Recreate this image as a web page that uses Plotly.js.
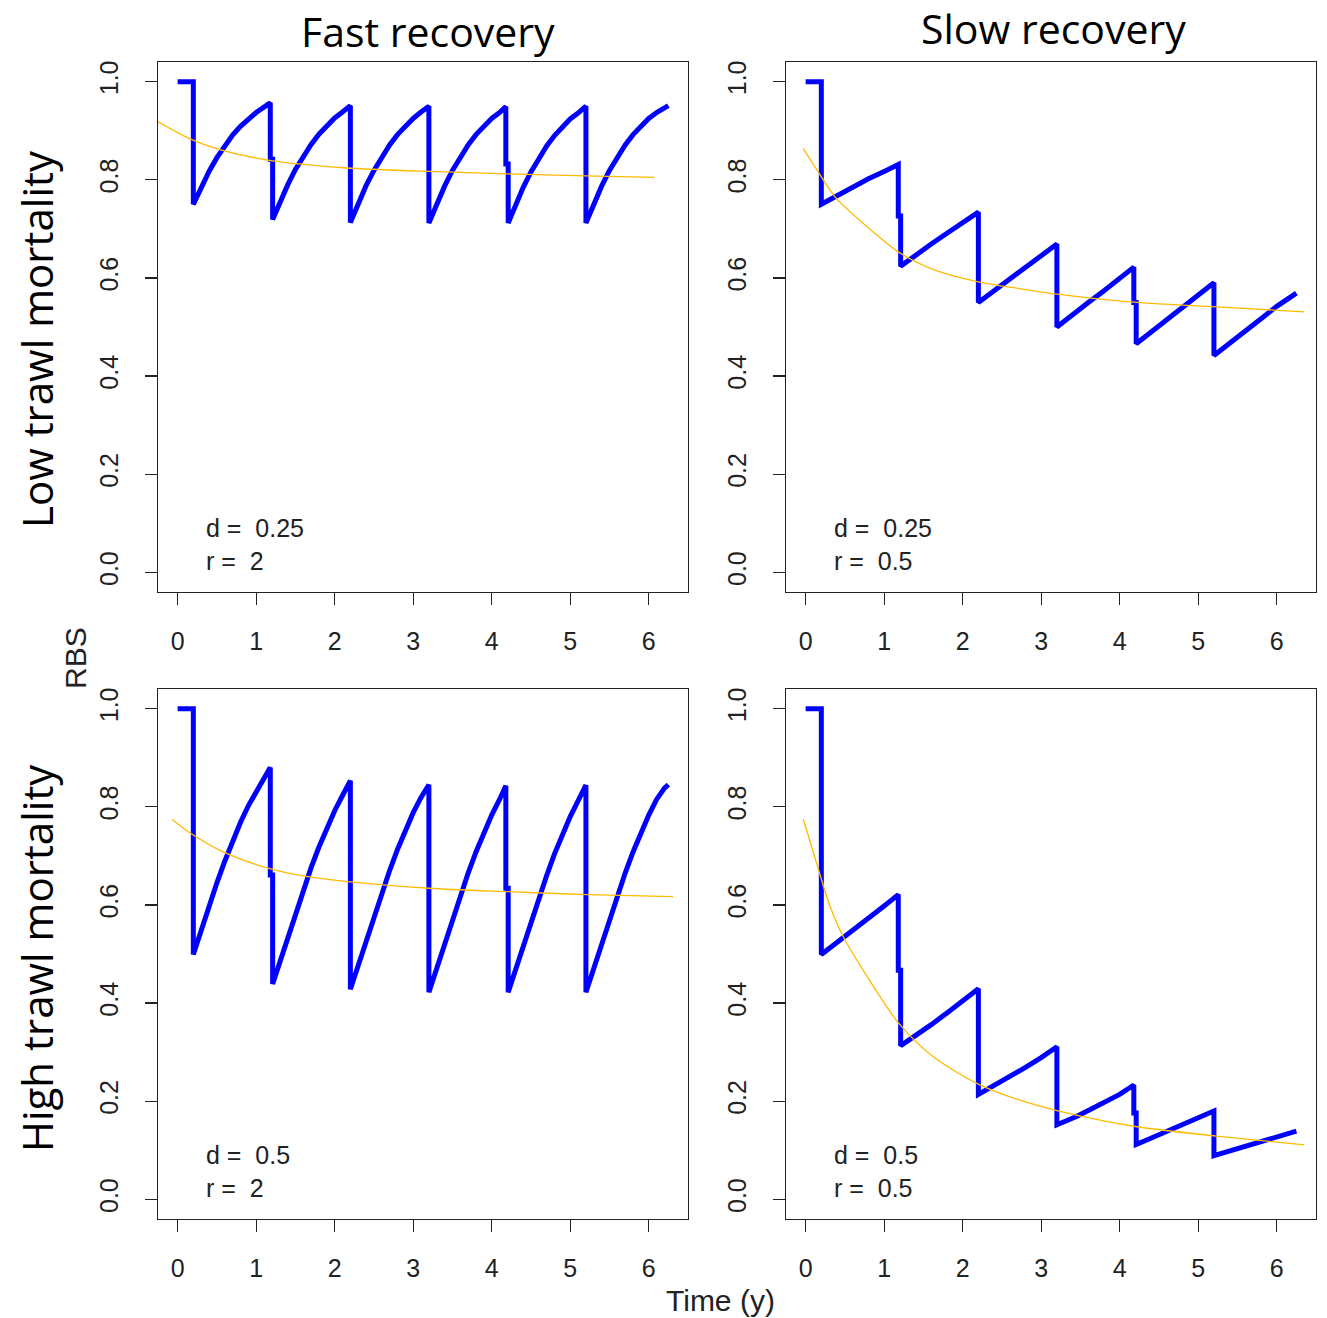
<!DOCTYPE html>
<html>
<head>
<meta charset="utf-8">
<script src="https://cdn.plot.ly/plotly-3.0.1.min.js"></script>
<style>
  html, body { margin: 0; padding: 0; background: #ffffff; }
  #chart { width: 1327px; height: 1318px; }
</style>
</head>
<body>
<div id="chart"></div>
<script>
// ---- Data ----
// Time axis (years) for the fast-recovery (left column) trajectories
const timeFast = [0, 0.2, 0.2,
  0.25, 0.3, 0.4, 0.5, 0.6, 0.7, 0.8, 0.9, 1.0, 1.1,
  1.18, 1.18, 1.21, 1.21,
  1.26, 1.31, 1.4, 1.5, 1.6, 1.7, 1.8, 1.9, 2.0, 2.1,
  2.2, 2.2,
  2.25, 2.3, 2.4, 2.5, 2.6, 2.7, 2.8, 2.9, 3.0, 3.1,
  3.2, 3.2,
  3.25, 3.3, 3.4, 3.5, 3.6, 3.7, 3.8, 3.9, 4.0, 4.1,
  4.18, 4.18, 4.21, 4.21,
  4.26, 4.31, 4.4, 4.5, 4.6, 4.7, 4.8, 4.9, 5.0, 5.1,
  5.2, 5.2,
  5.25, 5.3, 5.4, 5.5, 5.6, 5.7, 5.8, 5.9, 6.0, 6.1, 6.2, 6.25];

// Time axis (years) for the slow-recovery (right column) trajectories
const timeSlow = [0, 0.2, 0.2,
  0.3, 0.45, 0.6, 0.8, 1.0,
  1.18, 1.18, 1.21, 1.21,
  1.3, 1.45, 1.6, 1.8, 2.0,
  2.2, 2.2,
  2.3, 2.45, 2.6, 2.8, 3.0,
  3.2, 3.2,
  3.3, 3.45, 3.6, 3.8, 4.0,
  4.18, 4.18, 4.21, 4.21,
  4.3, 4.45, 4.6, 4.8, 5.0,
  5.2, 5.2,
  5.3, 5.45, 5.6, 5.8, 6.0, 6.25];

// Low trawl mortality, fast recovery (d = 0.25, r = 2)
const rbsLowFast = [1.0, 1.0, 0.75,
  0.768, 0.786, 0.817, 0.845, 0.870, 0.891, 0.909, 0.924, 0.937, 0.948,
  0.957, 0.842, 0.842, 0.719,
  0.739, 0.758, 0.789, 0.821, 0.848, 0.872, 0.893, 0.911, 0.926, 0.938,
  0.951, 0.713,
  0.733, 0.752, 0.788, 0.819, 0.847, 0.871, 0.892, 0.910, 0.925, 0.938,
  0.950, 0.712,
  0.732, 0.752, 0.787, 0.819, 0.847, 0.871, 0.892, 0.910, 0.925, 0.937,
  0.949, 0.832, 0.832, 0.712,
  0.732, 0.752, 0.784, 0.816, 0.845, 0.869, 0.890, 0.908, 0.924, 0.936,
  0.950, 0.712,
  0.732, 0.752, 0.787, 0.819, 0.847, 0.871, 0.892, 0.910, 0.925, 0.937, 0.948, 0.951];

// Low trawl mortality, slow recovery (d = 0.25, r = 0.5)
const rbsLowSlow = [1.0, 1.0, 0.75,
  0.759, 0.773, 0.786, 0.802, 0.817,
  0.831, 0.726, 0.726, 0.624,
  0.635, 0.652, 0.669, 0.691, 0.712,
  0.734, 0.550,
  0.562, 0.581, 0.599, 0.623, 0.646,
  0.669, 0.500,
  0.513, 0.531, 0.550, 0.574, 0.599,
  0.622, 0.550, 0.550, 0.466,
  0.477, 0.496, 0.515, 0.540, 0.564,
  0.590, 0.442,
  0.454, 0.473, 0.492, 0.517, 0.542, 0.569];

// High trawl mortality, fast recovery (d = 0.5, r = 2)
const rbsHighFast = [1.0, 1.0, 0.499,
  0.524, 0.549, 0.598, 0.645, 0.689, 0.730, 0.768, 0.802, 0.831, 0.858,
  0.880, 0.661, 0.661, 0.439,
  0.464, 0.489, 0.534, 0.583, 0.631, 0.676, 0.718, 0.757, 0.792, 0.823,
  0.853, 0.428,
  0.453, 0.478, 0.528, 0.577, 0.625, 0.670, 0.713, 0.752, 0.788, 0.819,
  0.845, 0.422,
  0.447, 0.471, 0.521, 0.571, 0.619, 0.665, 0.708, 0.748, 0.783, 0.815,
  0.843, 0.634, 0.634, 0.422,
  0.447, 0.471, 0.516, 0.566, 0.614, 0.660, 0.704, 0.744, 0.780, 0.812,
  0.844, 0.422,
  0.447, 0.471, 0.521, 0.571, 0.619, 0.665, 0.708, 0.748, 0.783, 0.815, 0.838, 0.845];

// High trawl mortality, slow recovery (d = 0.5, r = 0.5)
const rbsHighSlow = [1.0, 1.0, 0.499,
  0.511, 0.530, 0.549, 0.573, 0.598,
  0.621, 0.467, 0.467, 0.313,
  0.323, 0.339, 0.356, 0.380, 0.403,
  0.429, 0.214,
  0.223, 0.236, 0.250, 0.269, 0.289,
  0.311, 0.152,
  0.158, 0.169, 0.181, 0.197, 0.214,
  0.233, 0.176, 0.176, 0.112,
  0.118, 0.128, 0.138, 0.151, 0.165,
  0.180, 0.089,
  0.094, 0.101, 0.108, 0.118, 0.128, 0.139];

// Orange trend curves
const trendTimeLowFast = [-0.28, 0.15, 0.55, 1.15, 1.5, 2.15, 3.2, 4.2, 5.2, 6.07];
const trendLowFast     = [0.921, 0.884, 0.861, 0.840, 0.833, 0.824, 0.817, 0.812, 0.808, 0.805];

const trendTimeLowSlow = [-0.03, 0.14, 0.38, 0.755, 1.19, 1.63, 2.2, 2.73, 3.2, 4.22, 5.23, 6.35];
const trendLowSlow     = [0.864, 0.821, 0.764, 0.708, 0.652, 0.617, 0.592, 0.578, 0.567, 0.550, 0.541, 0.531];

const trendTimeHighFast = [-0.07, 0.145, 0.58, 1.15, 1.64, 2.2, 3.2, 4.21, 5.23, 6.31];
const trendHighFast     = [0.774, 0.748, 0.708, 0.675, 0.658, 0.647, 0.634, 0.627, 0.621, 0.617];

const trendTimeHighSlow = [-0.03, 0.14, 0.3, 0.49, 0.8, 1.19, 1.63, 2.2, 2.73, 3.2, 4.22, 5.23, 6.35];
const trendHighSlow     = [0.775, 0.685, 0.602, 0.532, 0.450, 0.358, 0.290, 0.235, 0.202, 0.181, 0.148, 0.129, 0.111];

// Panel texts
const columnTitles = ["Fast recovery", "Slow recovery"];
const rowTitles = ["Low trawl mortality", "High trawl mortality"];
const dLabels = ["0.25", "0.25", "0.5", "0.5"];
const rLabels = ["2", "0.5", "2", "0.5"];
const xTickVals = [0, 1, 2, 3, 4, 5, 6];
const yTickVals = [0, 0.2, 0.4, 0.6, 0.8, 1.0];

// ---- Drawing ----
const W = 1327, H = 1318;
const px = v => v / W;
const py = v => 1 - v / H;

const BLUE = '#0000FF';
const ORANGE = '#FFBA00';
const INK = '#222222';
const tickFont = { family: 'Liberation Sans, Arial, sans-serif', size: 25, color: INK };

const blueX = [timeFast, timeSlow, timeFast, timeSlow];
const blueSeries = [rbsLowFast, rbsLowSlow, rbsHighFast, rbsHighSlow];
const trendX = [trendTimeLowFast, trendTimeLowSlow, trendTimeHighFast, trendTimeHighSlow];
const trendY = [trendLowFast, trendLowSlow, trendHighFast, trendHighSlow];

const traces = [];
for (let i = 0; i < 4; i++) {
  const suffix = i === 0 ? '' : String(i + 1);
  traces.push({
    x: blueX[i], y: blueSeries[i], xaxis: 'x' + suffix, yaxis: 'y' + suffix,
    type: 'scatter', mode: 'lines',
    line: { color: BLUE, width: 5 }, hoverinfo: 'skip', showlegend: false
  });
  traces.push({
    x: trendX[i], y: trendY[i], xaxis: 'x' + suffix, yaxis: 'y' + suffix,
    type: 'scatter', mode: 'lines', line: { color: ORANGE, width: 1.3, shape: 'spline', smoothing: 0.8 },
    hoverinfo: 'skip', showlegend: false
  });
}

// panel boxes in pixels
const colX = [[158, 688], [786, 1316]];
const rowY = [[62, 592], [689, 1219]];

function xAxis(col, anchor) {
  return {
    domain: [px(colX[col][0]), px(colX[col][1])],
    anchor: anchor,
    range: [-0.25, 6.5],
    tickvals: xTickVals,
    ticks: 'outside', ticklen: 12, tickwidth: 1.2, tickcolor: INK,
    showline: true, mirror: true, linecolor: INK, linewidth: 1.3,
    showgrid: false, zeroline: false,
    tickfont: tickFont, ticklabelstandoff: 15
  };
}
function yAxis(row, anchor) {
  return {
    domain: [py(rowY[row][1]), py(rowY[row][0])],
    anchor: anchor,
    range: [-0.04, 1.04],
    tickvals: yTickVals, tickformat: '.1f', tickangle: -90,
    ticks: 'outside', ticklen: 12, tickwidth: 1.2, tickcolor: INK,
    showline: true, mirror: true, linecolor: INK, linewidth: 1.3,
    showgrid: false, zeroline: false,
    tickfont: tickFont, ticklabelstandoff: 17
  };
}

const layout = {
  width: W, height: H,
  margin: { l: 0, r: 0, t: 0, b: 0 },
  paper_bgcolor: '#ffffff', plot_bgcolor: '#ffffff',
  showlegend: false,
  xaxis: xAxis(0, 'y'), yaxis: yAxis(0, 'x'),
  xaxis2: xAxis(1, 'y2'), yaxis2: yAxis(0, 'x2'),
  xaxis3: xAxis(0, 'y3'), yaxis3: yAxis(1, 'x3'),
  xaxis4: xAxis(1, 'y4'), yaxis4: yAxis(1, 'x4'),
  annotations: []
};

const bigFont = { family: 'Open Sans, Noto Sans, sans-serif', size: 41, color: '#000' };
const rowFont = { family: 'Open Sans, Noto Sans, sans-serif', size: 42, color: '#000' };
const labFont = { family: 'Liberation Sans, Arial, sans-serif', size: 30, color: INK };

layout.annotations.push(
  { text: columnTitles[0], x: px(428), y: py(31), xref: 'paper', yref: 'paper', showarrow: false, xanchor: 'center', yanchor: 'middle', font: bigFont },
  { text: columnTitles[1], x: px(1053), y: py(28), xref: 'paper', yref: 'paper', showarrow: false, xanchor: 'center', yanchor: 'middle', font: bigFont },
  { text: rowTitles[0], x: px(36), y: py(339), xref: 'paper', yref: 'paper', showarrow: false, textangle: -90, xanchor: 'center', yanchor: 'middle', font: rowFont },
  { text: rowTitles[1], x: px(36), y: py(958), xref: 'paper', yref: 'paper', showarrow: false, textangle: -90, xanchor: 'center', yanchor: 'middle', font: rowFont },
  { text: 'RBS', x: px(75), y: py(658), xref: 'paper', yref: 'paper', showarrow: false, textangle: -90, xanchor: 'center', yanchor: 'middle', font: labFont },
  { text: 'Time (y)', x: px(720), y: py(1300), xref: 'paper', yref: 'paper', showarrow: false, xanchor: 'center', yanchor: 'middle', font: labFont }
);

for (let i = 0; i < 4; i++) {
  const suffix = i === 0 ? '' : String(i + 1);
  layout.annotations.push({
    text: 'd =\u00A0 ' + dLabels[i] + '<br>r =\u00A0 ' + rLabels[i],
    x: 0.34, y: 0.057, xref: 'x' + suffix, yref: 'y' + suffix,
    showarrow: false, xanchor: 'left', yanchor: 'middle', align: 'left',
    font: { family: 'Liberation Sans, Arial, sans-serif', size: 25, color: INK }
  });
}

Plotly.newPlot('chart', traces, layout, { displayModeBar: false, staticPlot: true });
</script>
</body>
</html>
